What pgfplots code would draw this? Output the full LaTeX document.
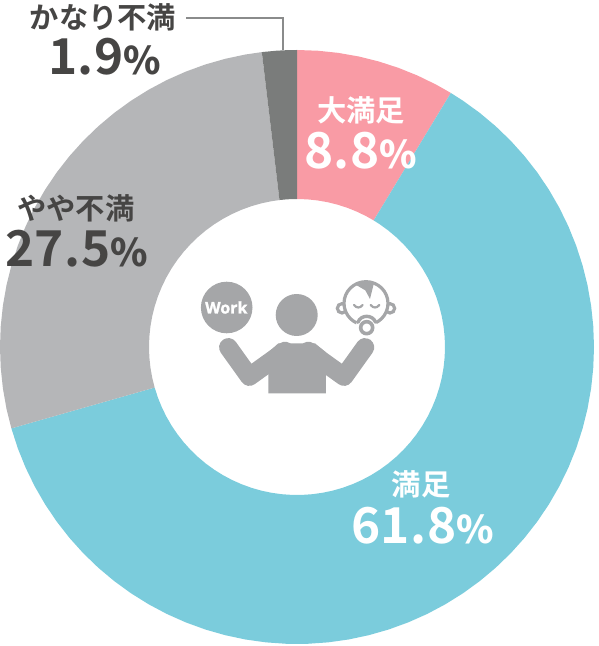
\documentclass[border=0pt]{standalone}
\usepackage{fontspec}
\setmainfont{Noto Sans CJK JP}[BoldFont={Noto Sans CJK JP Bold}]
\newfontfamily\pct{Noto Sans CJK JP Medium}
\newfontfamily\wk{Open Sans}[BoldFeatures={FakeBold=1.5}]
\usepackage{pgfplots}
\pgfplotsset{compat=1.18}
\definecolor{cpink}{HTML}{F99BA5}
\definecolor{cteal}{HTML}{7BCCDC}
\definecolor{clight}{HTML}{B5B6B8}
\definecolor{cdark}{HTML}{7A7C7B}
\definecolor{ctext}{HTML}{464544}
\definecolor{cicon}{HTML}{A5A6A8}
\definecolor{cline}{HTML}{8A8B8B}
\newcommand{\lab}[1]{\fontsize{29.3}{29.3}\selectfont\bfseries #1}
\newcommand{\val}[2]{\fontsize{49.5}{49.5}\selectfont\bfseries\addfontfeatures{LetterSpace=1} #1{\fontsize{38}{38}\selectfont\pct #2}}
\begin{document}
\begin{tikzpicture}
\begin{axis}[
  scale only axis, width=598pt, height=646pt,
  xmin=-297, xmax=301, ymin=-299, ymax=347,
  hide axis, clip=false]
% pink: 8.8 %
\addplot[fill=cpink, draw=none, data cs=polar] coordinates {
 (90,297)(86,297)(82,297)(78,297)(74,297)(70,297)(66,297)(62,297)(58.8,297)
 (58.8,148)(62,148)(66,148)(70,148)(74,148)(78,148)(82,148)(86,148)(90,148)} --cycle;
% teal: 61.8 %
\addplot[fill=cteal, draw=none, data cs=polar] coordinates {
 (58.8,297)(56,297)(52,297)(48,297)(44,297)(40,297)(36,297)(32,297)(28,297)(24,297)(20,297)(16,297)(12,297)(8,297)(4,297)(0,297)
 (-4,297)(-8,297)(-12,297)(-16,297)(-20,297)(-24,297)(-28,297)(-32,297)(-36,297)(-40,297)(-44,297)(-48,297)(-52,297)(-56,297)(-60,297)
 (-64,297)(-68,297)(-72,297)(-76,297)(-80,297)(-84,297)(-88,297)(-92,297)(-96,297)(-100,297)(-104,297)(-108,297)(-112,297)(-116,297)(-120,297)
 (-124,297)(-128,297)(-132,297)(-136,297)(-140,297)(-144,297)(-148,297)(-152,297)(-156,297)(-160,297)(-164.1,297)
 (-164.1,148)(-160,148)(-156,148)(-152,148)(-148,148)(-144,148)(-140,148)(-136,148)(-132,148)(-128,148)(-124,148)
 (-120,148)(-116,148)(-112,148)(-108,148)(-104,148)(-100,148)(-96,148)(-92,148)(-88,148)(-84,148)(-80,148)(-76,148)(-72,148)(-68,148)(-64,148)
 (-60,148)(-56,148)(-52,148)(-48,148)(-44,148)(-40,148)(-36,148)(-32,148)(-28,148)(-24,148)(-20,148)(-16,148)(-12,148)(-8,148)(-4,148)
 (0,148)(4,148)(8,148)(12,148)(16,148)(20,148)(24,148)(28,148)(32,148)(36,148)(40,148)(44,148)(48,148)(52,148)(56,148)(58.8,148)} --cycle;
% light grey: 27.5 %
\addplot[fill=clight, draw=none, data cs=polar] coordinates {
 (96.8,297)(100,297)(104,297)(108,297)(112,297)(116,297)(120,297)(124,297)(128,297)(132,297)(136,297)(140,297)(144,297)(148,297)(152,297)(156,297)(160,297)(164,297)(168,297)(172,297)(176,297)(180,297)(184,297)(188,297)(192,297)(195.9,297)
 (195.9,148)(192,148)(188,148)(184,148)(180,148)(176,148)(172,148)(168,148)(164,148)(160,148)(156,148)(152,148)(148,148)(144,148)(140,148)(136,148)(132,148)(128,148)(124,148)(120,148)(116,148)(112,148)(108,148)(104,148)(100,148)(96.8,148)} --cycle;
% dark grey: 1.9 %
\addplot[fill=cdark, draw=none, data cs=polar] coordinates {
 (90,297)(92,297)(94,297)(96.8,297)(96.8,148)(94,148)(92,148)(90,148)} --cycle;
% leader line
\addplot[cline, line width=1.5pt, line join=miter] coordinates {(-111,329)(-14,329)(-14,297)};
% page extent
\path (axis cs:-297,-299) rectangle (axis cs:301,347);

\begin{scope}[shift={(axis cs:-297,347)}, x=1pt, y=-1pt]
  % labels
  \node[anchor=base, text=ctext, inner sep=0pt] at (103,29) {\lab{かなり不満}};
  \node[anchor=base west, text=ctext, inner sep=0pt] at (48,74.5) {\val{1.9}{\%}};
  \node[anchor=base, text=ctext, inner sep=0pt] at (76,220) {\lab{やや不満}};
  \node[anchor=base west, text=ctext, inner sep=0pt] at (5,266.5) {\val{27.5}{\%}};
  \node[anchor=base, text=white, inner sep=0pt] at (361,122) {\lab{大満足}};
  \node[anchor=base west, text=white, inner sep=0pt] at (304,168.5) {\val{8.8}{\%}};
  \node[anchor=base, text=white, inner sep=0pt] at (421,496) {\lab{満足}};
  \node[anchor=base west, text=white, inner sep=0pt] at (351,543.5) {\val{61.8}{\%}};
  % Work
  \fill[cicon] (226.7,307.5) circle[radius=25.8];
  \node[text=white, inner sep=0pt] at (226.3,307.5) {\fontsize{16}{16}\selectfont\wk\bfseries Work};
  % person
  \fill[cicon] (296.7,315) circle[radius=21];
  \begin{scope}[shift={(190,265)}, x=0.3333pt, y=-0.3333pt]
    \fill[cicon] (265,235)--(375,235)--(408,262)--(408,385)--(235,385)--(235,262)--cycle;
    \draw[cicon, line width=18.5pt, line cap=round, line join=round] (115,247)--(178,335)--(285,258);
    \draw[cicon, line width=18.5pt, line cap=round, line join=round] (525,247)--(462,335)--(355,258);
  \end{scope}
  % baby
  \begin{scope}[shift={(330,275)}, x=0.3333pt, y=-0.3333pt]
    \draw[cicon, line width=3.2pt] (36,100) circle[radius=14];
    \draw[cicon, line width=3.2pt] (180,100) circle[radius=14];
    \draw[cicon, line width=3.2pt, fill=white] (108,85) ellipse[x radius=66, y radius=65];
    \fill[cicon] (76,24)--(132,24)--(120,72)--(106,46)--(82,32)--cycle;
    \draw[cicon, line width=2.2pt, line cap=round] (72,90) .. controls (80,100) and (90,100) .. (98,90);
    \draw[cicon, line width=2.2pt, line cap=round] (122,90) .. controls (130,100) and (140,100) .. (148,90);
    \fill[white] (110,157) circle[radius=33];
    \draw[cicon, line width=3.4pt, line cap=round] (84,142) .. controls (92,118) and (128,118) .. (137,142);
    \draw[cicon, line width=3.6pt, fill=white] (110,158) circle[radius=18];
  \end{scope}
\end{scope}
\end{axis}
\end{tikzpicture}
\end{document}
